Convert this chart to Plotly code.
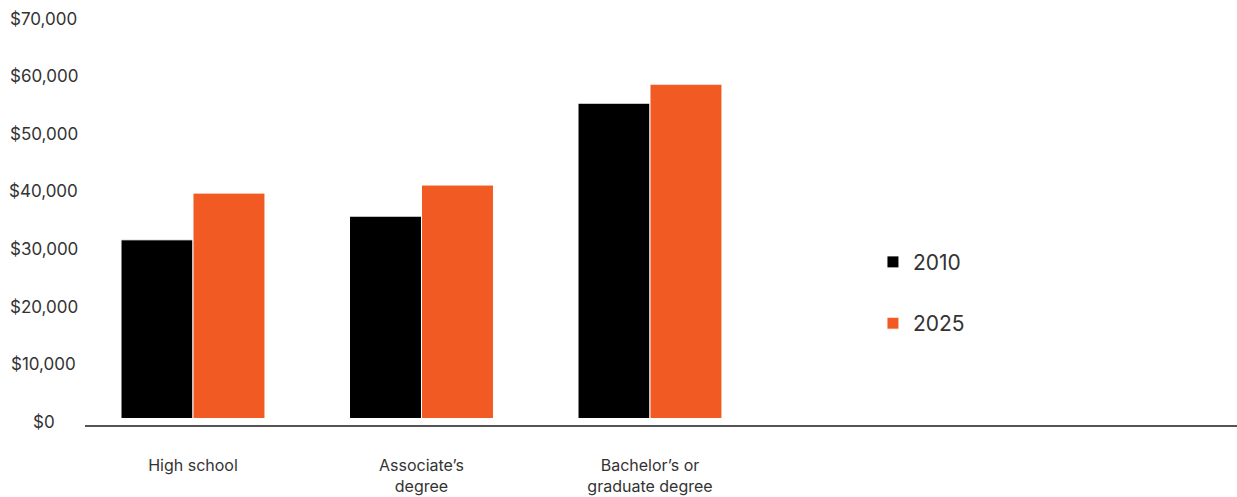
import plotly.graph_objects as go

categories = ["High school", "Associate’s<br>degree", "Bachelor’s or<br>graduate degree"]
series_names = ["2010", "2025"]
values_2010 = [31000, 35100, 54700]
values_2025 = [39100, 40500, 58000]
colors = ["#000000", "#F15A22"]
y_tick_vals = [0, 10000, 20000, 30000, 40000, 50000, 60000, 70000]
y_tick_text = ["$0", "$10,000", "$20,000", "$30,000", "$40,000", "$50,000", "$60,000", "$70,000"]

FONT = "Inter"
TEXT = "#333333"

fig = go.Figure()
for name, vals, col in zip(series_names, [values_2010, values_2025], colors):
    fig.add_trace(go.Bar(
        x=categories, y=vals, name=name, legendgroup=name,
        marker=dict(color=col, line=dict(color="white", width=1)),
        hoverinfo="skip",
    ))

annotations = [
    dict(x=-0.0356, y=v, xref="paper", yref="y", text=t, showarrow=False,
         xanchor="center", yanchor="middle", yshift=-3.5,
         font=dict(family=FONT, size=17, color=TEXT))
    for v, t in zip(y_tick_vals, y_tick_text)
]

fig.update_layout(
    width=1237, height=497,
    margin=dict(l=85, r=0, t=15, b=72, autoexpand=False),
    paper_bgcolor="white", plot_bgcolor="white",
    barmode="group", bargap=0.37, bargroupgap=0,
    font=dict(family=FONT, size=17, color=TEXT),
    showlegend=True,
    legend=dict(x=0.684, y=0.447, xanchor="left", yanchor="top",
                font=dict(family=FONT, size=21, color=TEXT),
                tracegroupgap=31, bgcolor="rgba(0,0,0,0)"),
    annotations=annotations,
    xaxis=dict(type="category", range=[-0.4726, 4.569], showgrid=False,
               showline=True, linecolor="#555555", linewidth=2,
               ticks="", ticklabelstandoff=25, automargin=False,
               tickfont=dict(family=FONT, size=16, color=TEXT), fixedrange=True),
    yaxis=dict(range=[-1130, 70000], showgrid=False, zeroline=False,
               showticklabels=False, showline=False, fixedrange=True,
               automargin=False),
)

fig.write_html(
    "out.html",
    config={"displayModeBar": False},
    post_script="document.body.style.margin='0';document.body.style.overflow='hidden';",
)
